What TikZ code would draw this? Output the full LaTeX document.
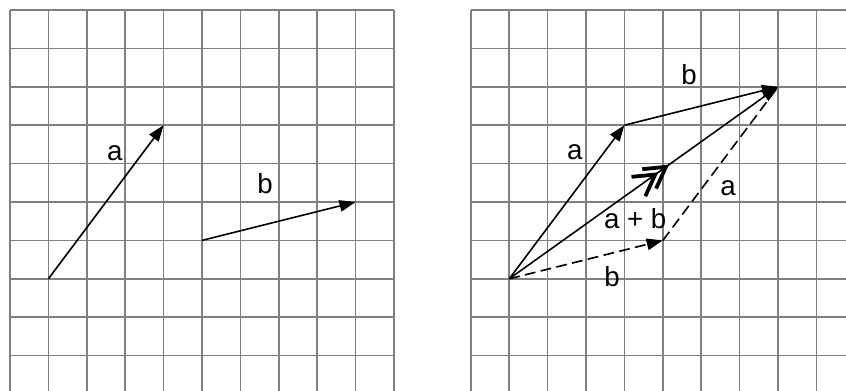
\documentclass[tikz,border=0pt]{standalone}
\usepackage{fontspec}
\setmainfont{Liberation Sans}
\usetikzlibrary{arrows.meta,calc}

\begin{document}
\begin{tikzpicture}[font=\fontsize{20.5}{24}\selectfont]
    \tikzset{
        gridline/.style={draw=gray, line width=1.1pt},
        vec/.style={line width=1.2pt, -{Triangle[length=0.42cm,width=0.3cm]}},
        dashvec/.style={line width=1.2pt, dash pattern=on 8pt off 4pt},
        chevron/.style={line width=2.8pt}
    }
    \useasboundingbox (-0.26,-9.896) rectangle (21.77,0.26);

    % the two grids
    \draw [gridline] (0,-10) grid (10,0);
    \draw [gridline] (12,-10) grid (22,0);

    % left: a and b on their own
    \coordinate (a0) at (1,-7);
    \coordinate (a1) at (4,-3);
    \coordinate (b0) at (5,-6);
    \coordinate (b1) at (9,-5);
    \draw [vec] (a0) -- (a1);
    \draw [vec] (b0) -- (b1);
    \node (la) at (2.73,-3.72) {a};
    \node (lb) at (6.64,-4.53) {b};

    % right: a + b
    \coordinate (o) at (13,-7);
    \coordinate (p) at (16,-3);
    \coordinate (s) at (20,-2);
    \coordinate (q) at (17,-6);
    \draw [vec] (o) -- (p);
    \draw [vec] (p) -- (s);
    \draw [vec] (o) -- (s);
    \draw [dashvec, -{Triangle[length=0.42cm,width=0.3cm]}] (o) -- (q);
    \draw [dashvec] (q) -- (s);
    \node (ra) at (14.71,-3.70) {a};
    \node (rb) at (17.68,-1.67) {b};
    \node (ra2) at (18.70,-4.64) {a};
    \node (rsum) at (16.28,-5.42) {a + b};
    \node (rb2) at (15.68,-6.93) {b};

    % double mark on the sum
    \path (o) -- (s) coordinate[pos=0.583] (m1) coordinate[pos=0.543] (m2);
    \draw [chevron] ($(m1)!0.62cm!30:(o)$) -- (m1) -- ($(m1)!0.62cm!-30:(o)$);
    \draw [chevron] ($(m2)!0.62cm!30:(o)$) -- (m2) -- ($(m2)!0.62cm!-30:(o)$);
\end{tikzpicture}
\end{document}
